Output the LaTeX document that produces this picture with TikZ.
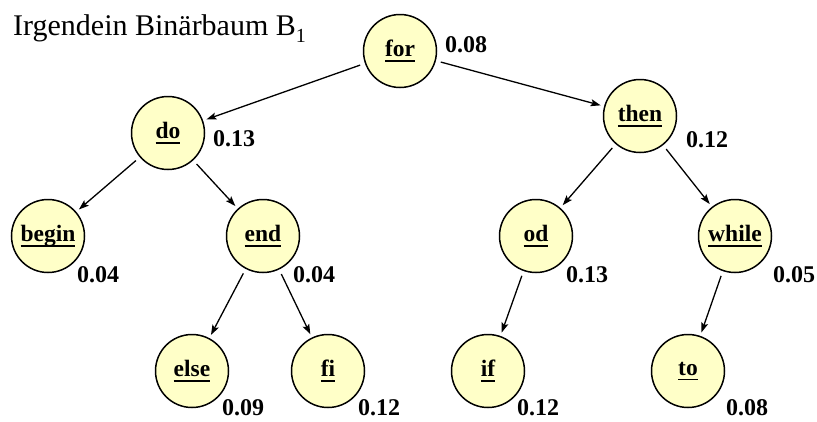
\documentclass[tikz,border=0pt]{standalone}
\usepackage{fontspec}
\setmainfont{Liberation Serif}
\usetikzlibrary{arrows.meta}
\definecolor{nodefill}{RGB}{255,255,200}
\newcommand\myul[1]{\setbox0\hbox{#1}\rlap{\rule[-5pt]{\wd0}{1.6pt}}\box0}
\tikzset{
  knot/.style={circle, draw=black, line width=1.5pt, fill=nodefill, minimum size=73pt, inner sep=0pt,
    font=\fontsize{23.5}{24}\selectfont\bfseries},
  prob/.style={anchor=base west, inner sep=0pt, font=\fontsize{24}{24}\selectfont\bfseries},
  edge/.style={line width=1.3pt, -{Stealth[length=10pt,width=7pt,inset=2pt]}, shorten <=5pt, shorten >=3.5pt}
}
\begin{document}
\begin{tikzpicture}[x=1pt,y=-1pt]
\useasboundingbox (0,0) rectangle (817,421);
\node[anchor=base west, inner sep=0pt, font=\fontsize{30}{30}\selectfont] (title) at (13,35)
  {Irgendein Binärbaum B{\fontsize{20}{20}\selectfont\raisebox{-7pt}{1}}};

\node[knot] (for) at (400,51) {\myul{for}};
\node[knot] (do) at (168,133) {\myul{do}};
\node[knot] (then) at (640,116) {\myul{then}};
\node[knot] (begin) at (48,236) {\myul{begin}};
\node[knot] (end) at (263,236) {\myul{end}};
\node[knot] (od) at (536,236) {\myul{od}};
\node[knot] (while) at (735,236) {\myul{while}};
\node[knot] (else) at (192,371) {\myul{else}};
\node[knot] (fi) at (328,371) {\myul{fi}};
\node[knot] (if) at (488,371) {\myul{if}};
\node[knot] (to) at (688,371) {\myul{to}};

\node[prob] (pfor) at (445,52) {0.08};
\node[prob] (pdo) at (213,146) {0.13};
\node[prob] (pthen) at (686,147) {0.12};
\node[prob] (pbegin) at (77,282) {0.04};
\node[prob] (pend) at (293,282) {0.04};
\node[prob] (pod) at (566,282) {0.13};
\node[prob] (pwhile) at (773,282) {0.05};
\node[prob] (pelse) at (222,415) {0.09};
\node[prob] (pfi) at (358,415) {0.12};
\node[prob] (pif) at (517,415) {0.12};
\node[prob] (pto) at (726,415) {0.08};

\draw[edge] (for) -- (do);
\draw[edge] (for) -- (then);
\draw[edge] (do) -- (begin);
\draw[edge] (do) -- (end);
\draw[edge] (end) -- (else);
\draw[edge] (end) -- (fi);
\draw[edge] (then) -- (od);
\draw[edge] (then) -- (while);
\draw[edge] (od) -- (if);
\draw[edge] (while) -- (to);
\end{tikzpicture}
\end{document}
